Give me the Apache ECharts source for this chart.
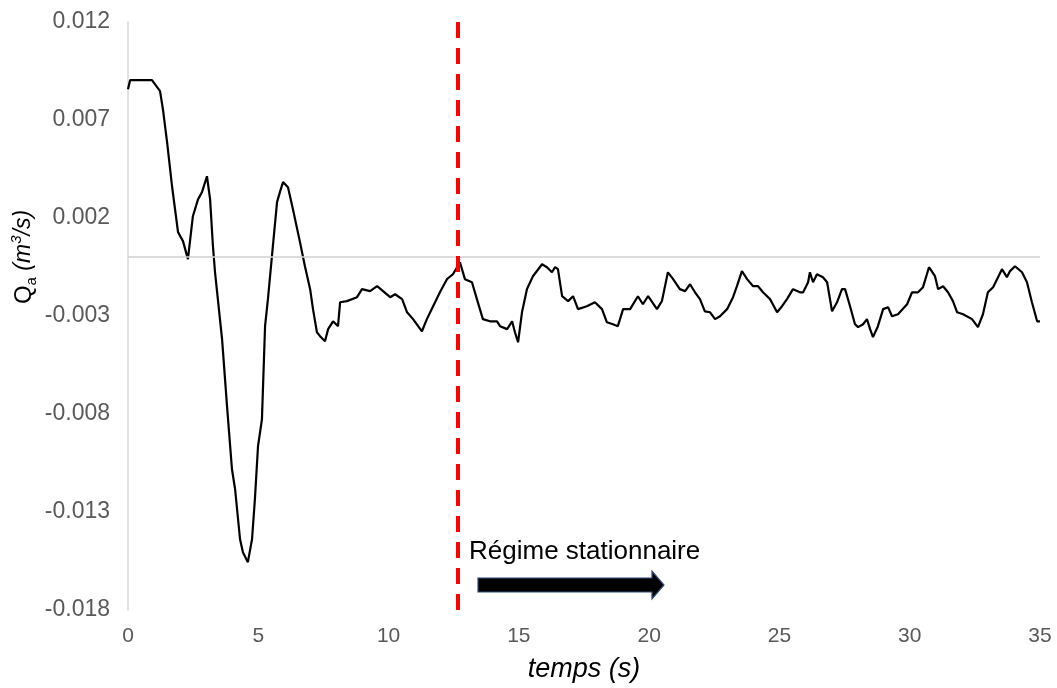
<!DOCTYPE html>
<html>
<head>
<meta charset="utf-8">
<script src="https://cdn.jsdelivr.net/npm/echarts@6/dist/echarts.min.js"></script>
<style>
  html, body { margin: 0; padding: 0; background: #fff; }
  #main { width: 1057px; height: 688px; }
</style>
</head>
<body>
<div id="main"></div>
<script>
// temps (s)
var tempsS = [0, 0.08, 0.92, 1.23, 1.34, 1.50, 1.69, 1.92, 2.11, 2.30, 2.49, 2.69, 2.84, 3.03, 3.15, 3.26, 3.34,
  3.61, 3.80, 3.99, 4.11, 4.30, 4.41, 4.60, 4.76, 4.87, 4.99, 5.14, 5.26, 5.37, 5.56, 5.72, 5.83, 5.95,
  6.14, 6.33, 6.60, 6.79, 6.99, 7.10, 7.25, 7.37, 7.56, 7.68, 7.87, 8.06, 8.14, 8.40, 8.79, 8.98, 9.29,
  9.56, 9.79, 10.06, 10.25, 10.52, 10.71, 10.94, 11.28, 11.47, 11.71, 11.97, 12.24, 12.47, 12.74, 12.93,
  13.20, 13.39, 13.62, 13.89, 14.16, 14.28, 14.55, 14.74, 14.85, 14.97, 15.12, 15.31, 15.54, 15.89, 16.08,
  16.27, 16.39, 16.50, 16.66, 16.89, 17.08, 17.27, 17.61, 17.92, 18.19, 18.38, 18.61, 18.80, 19.00, 19.27,
  19.57, 19.76, 19.96, 20.30, 20.49, 20.72, 20.92, 21.18, 21.38, 21.57, 21.76, 21.95, 22.14, 22.34, 22.53,
  22.72, 22.99, 23.22, 23.37, 23.56, 23.76, 23.99, 24.18, 24.37, 24.64, 24.91, 25.10, 25.29, 25.52, 25.79,
  25.91, 26.10, 26.17, 26.29, 26.44, 26.67, 26.83, 27.02, 27.21, 27.40, 27.52, 27.71, 27.90, 28.02, 28.21,
  28.36, 28.48, 28.59, 28.78, 28.98, 29.17, 29.32, 29.55, 29.90, 30.09, 30.32, 30.51, 30.74, 30.97, 31.09,
  31.28, 31.47, 31.66, 31.82, 32.05, 32.39, 32.62, 32.81, 33.00, 33.20, 33.39, 33.54, 33.73, 33.85, 34.04,
  34.31, 34.50, 34.69, 34.89, 35.0];
// Qa (m3/s)
var debitQa = [0.00857, 0.00903, 0.00903, 0.00847, 0.00755, 0.00587, 0.00362, 0.00128, 0.00082, -0.0001, 0.00209,
  0.00296, 0.00332, 0.00413, 0.00296, 0.00056, -0.00077, -0.00418, -0.0076, -0.01082, -0.01184, -0.01439,
  -0.01505, -0.01556, -0.01439, -0.01235, -0.00964, -0.00827, -0.00352, -0.00214, 0.00056, 0.00281, 0.00332,
  0.00383, 0.00357, 0.00245, 0.00077, -0.00046, -0.00163, -0.00265, -0.00383, -0.00403, -0.00429, -0.00367,
  -0.00327, -0.00352, -0.0023, -0.00224, -0.00204, -0.00163, -0.00173, -0.00148, -0.00173, -0.00204, -0.00189,
  -0.00214, -0.00281, -0.00316, -0.00378, -0.00316, -0.0025, -0.00179, -0.00112, -0.00087, -0.00026, -0.00112,
  -0.00128, -0.00214, -0.00316, -0.00327, -0.00327, -0.00352, -0.00367, -0.00327, -0.00383, -0.00434, -0.00281,
  -0.00163, -0.00097, -0.00036, -0.00051, -0.00077, -0.00051, -0.00061, -0.00199, -0.00224, -0.00199, -0.00265,
  -0.0025, -0.0023, -0.00265, -0.00332, -0.00342, -0.00352, -0.00265, -0.00265, -0.00199, -0.0024, -0.00199,
  -0.00265, -0.00224, -0.00077, -0.00112, -0.00163, -0.00173, -0.00138, -0.00179, -0.00214, -0.00276, -0.00281,
  -0.00316, -0.00301, -0.00265, -0.00204, -0.00148, -0.00071, -0.00112, -0.00148, -0.00148, -0.00179, -0.00214,
  -0.00281, -0.0025, -0.00214, -0.00163, -0.00179, -0.00179, -0.00128, -0.00077, -0.00128, -0.00087, -0.00102,
  -0.00128, -0.00276, -0.0023, -0.00163, -0.00163, -0.0025, -0.00342, -0.00357, -0.00342, -0.00316, -0.00367,
  -0.00408, -0.00352, -0.00265, -0.00255, -0.00301, -0.00291, -0.0024, -0.00179, -0.00179, -0.00153, -0.00051,
  -0.00097, -0.00163, -0.00148, -0.00179, -0.00224, -0.00281, -0.00291, -0.00316, -0.00357, -0.00291, -0.00179,
  -0.00153, -0.00102, -0.00061, -0.00102, -0.00071, -0.00046, -0.00077, -0.00128, -0.0023, -0.00327, -0.00327];
// début du régime stationnaire
var debutStationnaire = 12.66;
var xTicks = { min: 0, max: 35, interval: 5 };
var yTicks = { min: -0.018, max: 0.012, interval: 0.005 };

var points = tempsS.map(function (t, i) { return [t, debitQa[i]]; });

var myChart = echarts.init(document.getElementById('main'));
var police = 'Liberation Sans, Arial, sans-serif';

myChart.setOption({
  animation: false,
  grid: { left: 128, right: 17, top: 22, bottom: 78 },
  xAxis: {
    type: 'value',
    min: xTicks.min, max: xTicks.max, interval: xTicks.interval,
    axisLine: { show: false },
    axisTick: { show: false },
    splitLine: { show: false },
    axisLabel: { margin: 16, color: '#595959', fontSize: 21, fontFamily: police },
    name: 'temps (s)',
    nameLocation: 'middle',
    nameGap: 46,
    nameTextStyle: { color: '#000', fontSize: 27, fontStyle: 'italic', fontFamily: police }
  },
  yAxis: {
    type: 'value',
    min: yTicks.min, max: yTicks.max, interval: yTicks.interval,
    axisLine: { show: true, onZero: false, lineStyle: { color: '#d9d9d9', width: 1.5 } },
    axisTick: { show: false },
    splitLine: { show: false },
    axisLabel: {
      margin: 18, color: '#595959', fontSize: 23, fontFamily: police,
      formatter: function (v) { return v.toFixed(3); }
    }
  },
  series: [{
    type: 'line',
    data: points,
    showSymbol: false,
    lineStyle: { color: '#000', width: 2.2 },
    z: 3,
    markLine: {
      silent: true,
      symbol: 'none',
      label: { show: false },
      data: [
        { yAxis: 0, lineStyle: { color: '#d0d0d0', width: 1.5, type: 'solid' } },
        { xAxis: debutStationnaire, lineStyle: { color: '#ff0000', width: 4, type: [16, 10] } }
      ]
    }
  }],
  graphic: [
    {
      // titre de l'axe Y, tourné
      type: 'text',
      x: 24, y: 257,
      rotation: Math.PI / 2,
      style: {
        text: '{q|Q}{sub|a}{it| (m}{sup|3}{it|/s)}',
        align: 'center',
        verticalAlign: 'middle',
        rich: {
          q: { fontSize: 24, fontFamily: police, color: '#000', lineHeight: 30, verticalAlign: 'middle' },
          sub: { fontSize: 15, fontFamily: police, color: '#000', lineHeight: 30, verticalAlign: 'bottom' },
          sup: { fontSize: 15, fontStyle: 'italic', fontFamily: police, color: '#000', lineHeight: 30, verticalAlign: 'top' },
          it: { fontSize: 23, fontStyle: 'italic', fontFamily: police, color: '#000', lineHeight: 30, verticalAlign: 'middle' }
        }
      }
    },
    {
      type: 'text',
      x: 469, y: 552,
      style: {
        text: 'Régime stationnaire',
        fontSize: 26,
        fontFamily: police,
        fill: '#000',
        verticalAlign: 'middle'
      }
    },
    {
      // flèche
      type: 'polygon',
      shape: { points: [[478, 578], [652, 578], [652, 571], [664, 585], [652, 599], [652, 592], [478, 592]] },
      style: { fill: '#000', stroke: '#2f4b7c', lineWidth: 1.2 }
    }
  ]
});
</script>
</body>
</html>
